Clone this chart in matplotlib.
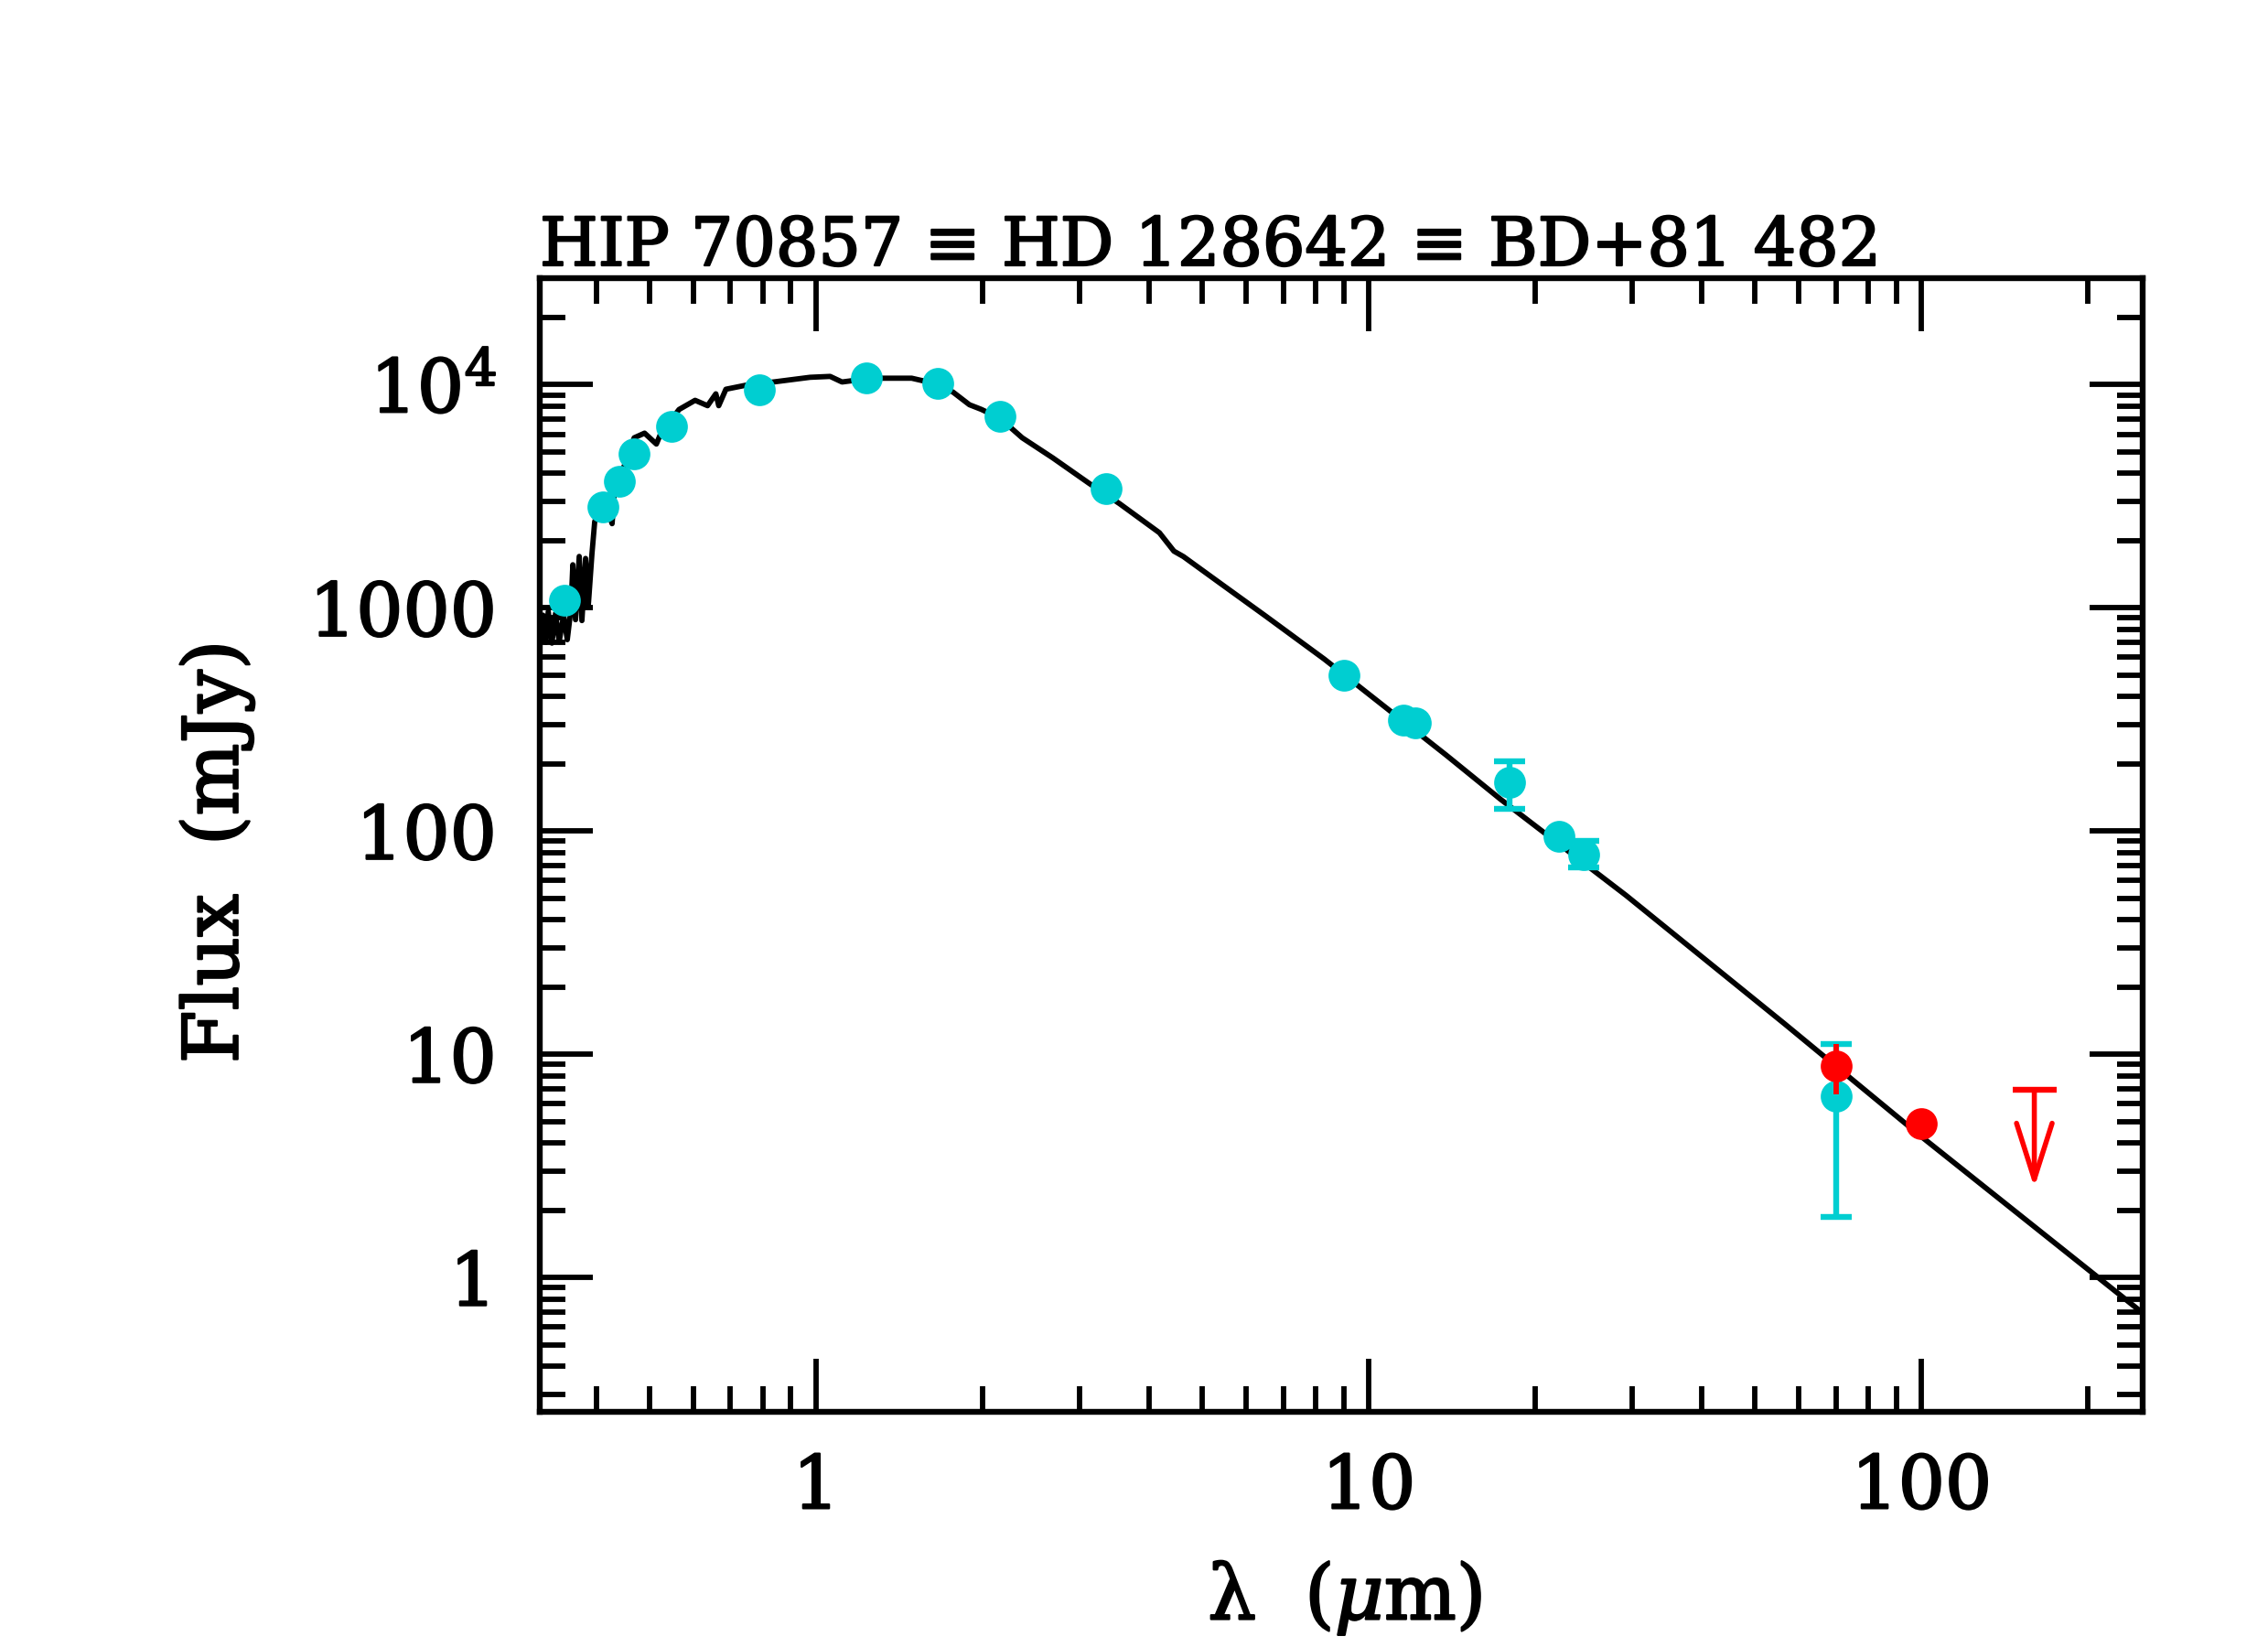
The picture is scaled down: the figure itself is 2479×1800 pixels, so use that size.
import matplotlib
matplotlib.use("Agg")
import matplotlib.pyplot as plt
import matplotlib.patheffects as pe
from matplotlib.ticker import FixedLocator, FixedFormatter, LogLocator, NullFormatter

# --- CONFIG ---
plt.rcParams['font.family'] = ['DejaVu Serif']
plt.rcParams['mathtext.fontset'] = 'dejavuserif'

TITLE = "HIP 70857 ≡ HD 128642 ≡ BD+81 482"
CYAN = "#00CED1"
RED = "#FF0000"
HEAVY = [pe.withStroke(linewidth=0.8, foreground='black')]

# --- DATA ---
# photosphere model
model_wl = [0.317, 0.3205, 0.3241, 0.3276, 0.3326, 0.3377, 0.3428, 0.3493, 0.3546,
            0.3601, 0.3629, 0.367, 0.3727, 0.3769, 0.3827, 0.387, 0.393, 0.3975,
            0.4052, 0.4145, 0.4274, 0.4323, 0.451, 0.4686, 0.4893, 0.514, 0.5238,
            0.5649, 0.604, 0.6362, 0.6585, 0.6665, 0.6867, 0.7548, 0.8367, 0.9749,
            1.06, 1.114, 1.259, 1.489, 1.595, 1.768, 1.894, 1.99, 2.155, 2.36, 2.68,
            3.12, 3.54, 4.18, 4.44, 4.62, 5.38, 6.51, 8.31, 13.8, 17.3, 29.2, 56.5,
            100.0, 250.0]
model_flux = [781, 927, 700, 963, 695, 944, 705, 927, 720,
              990, 1560, 885, 1700, 877, 1665, 1019, 1746, 2430,
              2800, 2985, 2383, 3540, 4400, 5780, 6065, 5420, 6065,
              7740, 8510, 8050, 9100, 8050, 9540, 10000, 10280, 10790,
              10890, 10280, 10690, 10690, 10280, 9270, 8130, 7750, 7050, 5780, 4700,
              3610, 2930, 2170, 1795, 1697, 1291, 918, 589, 219, 139, 51.5, 13.7,
              4.27, 0.70]

# photometry (cyan)
cyan_wl = [0.35, 0.412, 0.441, 0.468, 0.548, 0.79, 1.235, 1.662, 2.15, 3.35,
           9.0, 11.55, 12.15, 18.0, 22.1, 24.5, 70.0]
cyan_flux = [1080, 2830, 3680, 4890, 6480, 9450, 10680, 10090, 7190, 3410,
             501, 313, 306, 166, 95.1, 78.2, 6.5]
# points with visible error bars
cyan_err_wl = [18.0, 24.5, 70.0]
cyan_err_flux = [166, 78.2, 6.5]
cyan_err_lo = [40, 9.8, 4.63]
cyan_err_hi = [39, 12.0, 4.6]

# Herschel (red)
red_wl = [70.0, 100.0]
red_flux = [8.9, 4.9]
red_err_lo = [2.3, 0.0]
red_err_hi = [2.2, 0.0]

# upper limit
lim_wl = [160.0]
lim_flux = [6.9]

x_ticks = [1, 10, 100]
x_labels = ["1", "10", "100"]
y_ticks = [1, 10, 100, 1000, 1e4]
y_labels = ["1", "10", "100", "1000", r"$10^4$"]

# --- PLOT ---
fig = plt.figure(figsize=(12.395, 9), dpi=200)
ax = fig.add_axes([0.2380, 0.1428, 0.7067, 0.6883])
ax.set_xscale('log')
ax.set_yscale('log')
ax.set_xlim(10 ** -0.5, 10 ** 2.4)
ax.set_ylim(0.25, 3.0e4)

ax.plot(model_wl, model_flux, color='black', lw=2.1, zorder=2)

ax.plot(cyan_wl, cyan_flux, 'o', color=CYAN, ms=12.5, mec='none', zorder=3)
ax.errorbar(cyan_err_wl, cyan_err_flux, yerr=[cyan_err_lo, cyan_err_hi], fmt='none',
            ecolor=CYAN, elinewidth=2.3, capsize=6.1, capthick=2.3, zorder=3)

ax.errorbar(red_wl, red_flux, yerr=[red_err_lo, red_err_hi], fmt='o', color=RED,
            ms=12.5, mec='none', elinewidth=2.1, capsize=0, zorder=4)

for wl, fl in zip(lim_wl, lim_flux):
    ax.plot([wl], [fl], marker='_', color=RED, ms=17, mew=2.3, zorder=4)
    ax.annotate('', xy=(wl, fl / 2.73), xytext=(wl, fl),
                arrowprops=dict(arrowstyle='->,head_length=0.22,head_width=0.07',
                                color=RED, lw=2.0, shrinkA=0, shrinkB=0,
                                mutation_scale=100), zorder=4)

# axes styling
for s in ax.spines.values():
    s.set_linewidth(2.3)
ax.xaxis.set_major_locator(FixedLocator(x_ticks))
ax.xaxis.set_major_formatter(FixedFormatter(x_labels))
ax.yaxis.set_major_locator(FixedLocator(y_ticks))
ax.yaxis.set_major_formatter(FixedFormatter(y_labels))
ax.xaxis.set_minor_locator(LogLocator(base=10, subs=range(2, 10), numticks=20))
ax.yaxis.set_minor_locator(LogLocator(base=10, subs=range(2, 10), numticks=20))
ax.xaxis.set_minor_formatter(NullFormatter())
ax.yaxis.set_minor_formatter(NullFormatter())
ax.tick_params(which='both', direction='in', top=True, right=True, width=2.1)
ax.tick_params(which='major', length=20.8)
ax.tick_params(which='minor', length=10.2)
ax.tick_params(axis='x', which='major', labelsize=29, pad=16)
ax.tick_params(axis='y', which='major', labelsize=29, pad=17)
for lab in ax.get_xticklabels() + ax.get_yticklabels():
    lab.set_path_effects(HEAVY)

ax.text(0.0, 1.0113, TITLE, transform=ax.transAxes, ha='left', va='baseline',
        fontsize=26.3, path_effects=HEAVY)
fig.text(0.593, 0.0167, r"λ  ($\mu$m)", ha='center', va='baseline', fontsize=30,
         path_effects=HEAVY)
fig.text(0.0957, 0.483, "Flux  (mJy)", rotation=90, ha='center', va='center',
         fontsize=30, path_effects=HEAVY)

fig.savefig("out.png", dpi=200)
